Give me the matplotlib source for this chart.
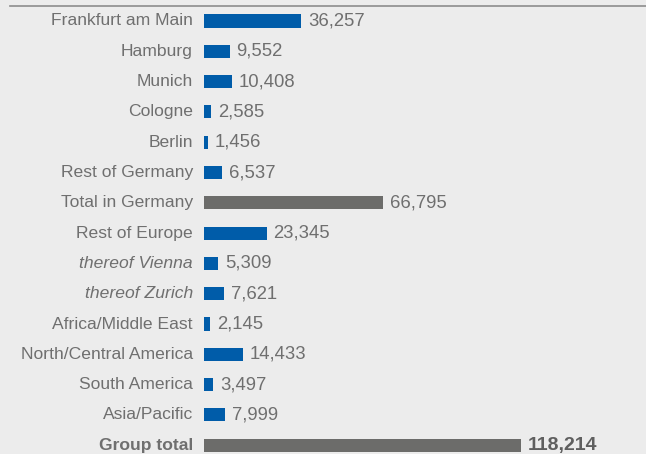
import numpy as np
import matplotlib.pyplot as plt

plt.rcParams['font.family'] = ['Liberation Sans', 'DejaVu Sans']

# Employees by location
locations = ["Frankfurt am Main", "Hamburg", "Munich", "Cologne", "Berlin",
             "Rest of Germany", "Total in Germany", "Rest of Europe",
             "thereof Vienna", "thereof Zurich", "Africa/Middle East",
             "North/Central America", "South America", "Asia/Pacific",
             "Group total"]
employees = [36257, 9552, 10408, 2585, 1456, 6537, 66795, 23345,
             5309, 7621, 2145, 14433, 3497, 7999, 118214]
totals = ["Total in Germany", "Group total"]
italic_rows = ["thereof Vienna", "thereof Zurich"]

bg = '#ececec'
blue = '#005ca9'
grey_bar = '#6c6c6a'
text_col = '#6f6f6f'

fig = plt.figure(figsize=(6.46, 4.54), dpi=100, facecolor=bg)
ax = fig.add_axes([204 / 646, 0, 442 / 646, 1], facecolor=bg)

y = np.arange(len(locations))
colors = [grey_bar if loc in totals else blue for loc in locations]
ax.barh(y, employees, height=0.43, color=colors)

ax.set_xlim(0, 442 * 373)
ax.set_ylim(14.29, -0.693)
ax.axis('off')

for yi, loc, val in zip(y, locations, employees):
    bold = loc == "Group total"
    style = 'italic' if loc in italic_rows else 'normal'
    weight = 'bold' if bold else 'normal'
    ax.annotate(loc, (0, yi), xytext=(-11, 0), textcoords='offset pixels',
                ha='right', va='center', fontsize=12.6, color=text_col,
                style=style, weight=weight)
    ax.annotate(f"{val:,}", (val, yi), xytext=(7, 0), textcoords='offset pixels',
                ha='left', va='center', fontsize=14 if bold else 13.3,
                color='#5f5f5f' if bold else text_col, weight=weight)

# rule across the top
fig.add_artist(plt.Line2D([10 / 646, 1], [1 - 6 / 454, 1 - 6 / 454],
                          color='#8c8c8c', lw=1.2))

fig.savefig('out.png', dpi=100, facecolor=bg)
